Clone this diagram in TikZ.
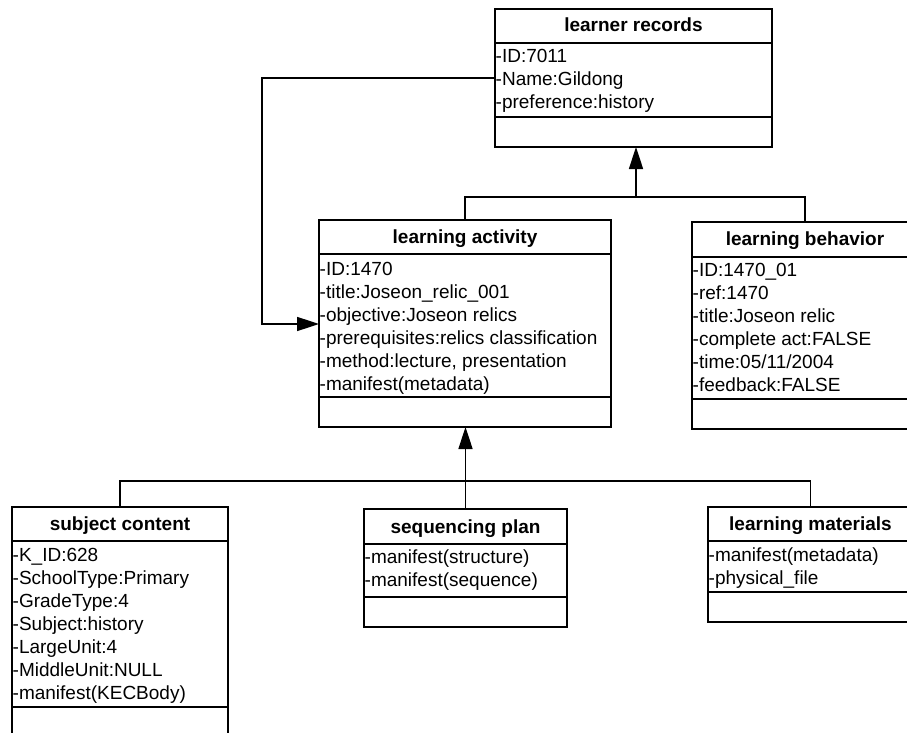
\documentclass[tikz,border=0pt]{standalone}
\usepackage{fontspec}
\setmainfont{Liberation Sans}
\usetikzlibrary{arrows.meta}
\tikzset{
  umlbox/.style={draw, line width=1.5pt, inner sep=0pt, outer sep=0pt, fill=white},
  sepline/.style={line width=1.5pt},
  conn/.style={line width=1.1pt},
  tipline/.style={line width=1.6pt, -{Triangle[length=22pt,width=14pt]}},
  ttl/.style={font=\fontsize{19}{23}\selectfont\bfseries, anchor=base, inner sep=0pt},
  attr/.style={font=\fontsize{19}{23}\selectfont, anchor=base west, inner sep=0pt}
}
\newcommand{\attrlist}[4]{%
  \foreach \t [count=\i] in {#4}{%
    \node[attr] (#1-\i) at ({#2},{#3+23*(\i-1)}) {\t};}%
}
\begin{document}
\begin{tikzpicture}[x=1pt,y=-1pt]
\useasboundingbox (0,0) rectangle (907,733);
\fill[white] (0,0) rectangle (907,733);
\clip (0,0) rectangle (907,733);

% boxes
\node[umlbox, minimum width=277, minimum height=138] (lr) at (633.5,78) {};
\node[umlbox, minimum width=292, minimum height=207] (la) at (465,323.5) {};
\node[umlbox, minimum width=226, minimum height=207] (lb) at (805,325.5) {};
\node[umlbox, minimum width=216, minimum height=263] (sc) at (120,638.5) {};
\node[umlbox, minimum width=203, minimum height=118] (sp) at (465.5,568) {};
\node[umlbox, minimum width=205, minimum height=115] (lm) at (810.5,564.5) {};

% separators
\draw[sepline] (lr.west |- 0,43) -- (lr.east |- 0,43);
\draw[sepline] (lr.west |- 0,117) -- (lr.east |- 0,117);
\draw[sepline] (la.west |- 0,254) -- (la.east |- 0,254);
\draw[sepline] (la.west |- 0,397) -- (la.east |- 0,397);
\draw[sepline] (lb.west |- 0,257) -- (lb.east |- 0,257);
\draw[sepline] (lb.west |- 0,399) -- (lb.east |- 0,399);
\draw[sepline] (sc.west |- 0,541) -- (sc.east |- 0,541);
\draw[sepline] (sc.west |- 0,707) -- (sc.east |- 0,707);
\draw[sepline] (sp.west |- 0,544) -- (sp.east |- 0,544);
\draw[sepline] (sp.west |- 0,597) -- (sp.east |- 0,597);
\draw[sepline] (lm.west |- 0,541) -- (lm.east |- 0,541);
\draw[sepline] (lm.west |- 0,592) -- (lm.east |- 0,592);

% titles
\node[ttl] (lr-t) at (633.5,32) {learner records};
\node[ttl] (la-t) at (465,243) {learning activity};
\node[ttl] (lb-t) at (805,245) {learning behavior};
\node[ttl] (sc-t) at (120,530) {subject content};
\node[ttl] (sp-t) at (465.5,533) {sequencing plan};
\node[ttl] (lm-t) at (810.5,530) {learning materials};

% attributes
\attrlist{lra}{495.5}{63}{-ID:7011,-Name:Gildong,-preference:history}
\attrlist{laa}{319.5}{275}{-ID:1470,-title:Joseon\_relic\_001,-objective:Joseon relics,-prerequisites:relics classification,{-method:lecture, presentation},-manifest(metadata)}
\attrlist{lba}{692.5}{276}{-ID:1470\_01,-ref:1470,-title:Joseon relic,-complete act:FALSE,-time:05/11/2004,-feedback:FALSE}
\attrlist{sca}{12.5}{561}{-K\_ID:628,-SchoolType:Primary,-GradeType:4,-Subject:history,-LargeUnit:4,-MiddleUnit:NULL,-manifest(KECBody)}
\attrlist{spa}{364.5}{563}{-manifest(structure),-manifest(sequence)}
\attrlist{lma}{708.5}{561}{-manifest(metadata),-physical\_file}

% connectors
\coordinate (j1) at (636,197);
\draw[conn] (la.north) |- (j1) -| (lb.north);
\draw[tipline] (j1) -- (j1 |- lr.south);

\coordinate (j2) at (465,481);
\draw[conn] (sc.north) |- (j2) -| (lm.north);
\draw[tipline] (sp.north) -- (sp.north |- la.south);

\coordinate (k1) at (262,78);
\coordinate (k2) at (262,324);
\draw[tipline] (k1 -| lr.west) -- (k1) -- (k2) -- (k2 -| la.west);
\end{tikzpicture}
\end{document}
